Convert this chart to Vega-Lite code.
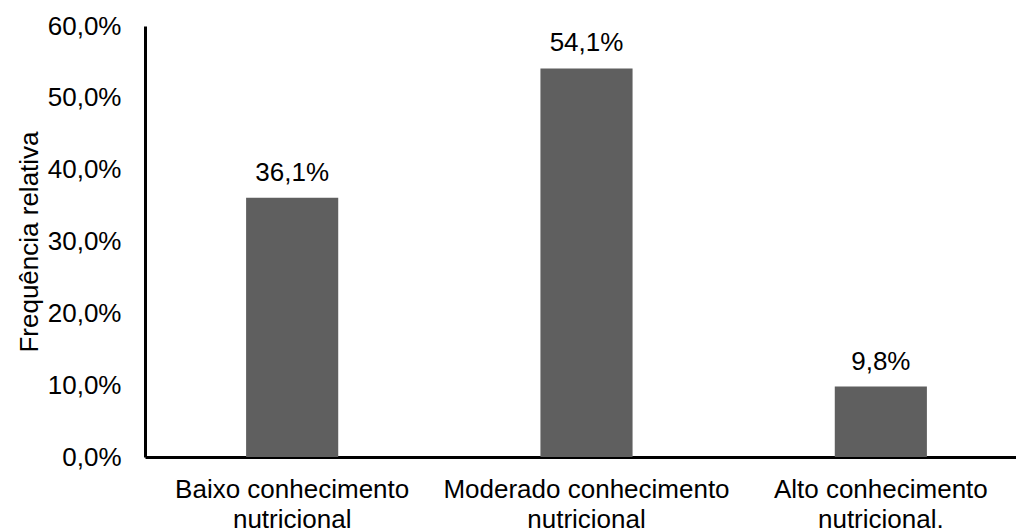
{
  "$schema": "https://vega.github.io/schema/vega-lite/v6.json",
  "autosize": "none",
  "padding": {"left": 145, "top": 26, "right": 0, "bottom": 73},
  "width": 883,
  "height": 431,
  "background": "white",
  "config": {
    "locale": {"number": {"decimal": ",", "thousands": ".", "grouping": [3], "currency": ["R$", ""]}},
    "font": "Liberation Sans",
    "view": {"stroke": null}
  },
  "data": {
    "values": [
      {"categoria": "Baixo conhecimento nutricional", "freq": 0.361},
      {"categoria": "Moderado conhecimento nutricional", "freq": 0.541},
      {"categoria": "Alto conhecimento nutricional.", "freq": 0.098}
    ]
  },
  "encoding": {
    "x": {
      "field": "categoria",
      "type": "nominal",
      "sort": null,
      "scale": {"paddingInner": 0.687, "paddingOuter": 0.3435},
      "axis": {
        "title": null,
        "labelAngle": 0,
        "labelFontSize": 26,
        "labelColor": "#000000",
        "labelPadding": 19.5,
        "labelLineHeight": 30,
        "labelBaseline": "top",
        "labelLimit": 400,
        "labelExpr": "[slice(datum.label, 0, indexof(datum.label, 'conhecimento') + 12), slice(datum.label, indexof(datum.label, 'conhecimento') + 13)]",
        "ticks": false,
        "domainColor": "#000000",
        "domainWidth": 3
      }
    },
    "y": {
      "field": "freq",
      "type": "quantitative",
      "scale": {"domain": [0, 0.6], "nice": false},
      "axis": {
        "title": "Frequência relativa",
        "titleFontSize": 26,
        "titleFontWeight": "normal",
        "titleColor": "#000000",
        "titlePadding": 5,
        "format": ".1%",
        "values": [0, 0.1, 0.2, 0.3, 0.4, 0.5, 0.6],
        "labelFontSize": 26,
        "labelColor": "#000000",
        "labelPadding": 24,
        "ticks": false,
        "grid": false,
        "domainColor": "#000000",
        "domainWidth": 3
      }
    }
  },
  "layer": [
    {"mark": {"type": "bar", "color": "#5f5f5f"}},
    {
      "mark": {"type": "text", "dy": -17, "baseline": "alphabetic", "fontSize": 26, "color": "#000000"},
      "encoding": {"text": {"field": "freq", "type": "quantitative", "format": ".1%"}}
    }
  ]
}
